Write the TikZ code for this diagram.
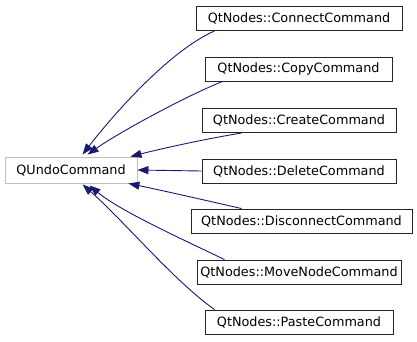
\documentclass[tikz,border=0pt]{standalone}
\usepackage{fontspec}
\setmainfont{DejaVu Sans}
\usetikzlibrary{arrows.meta}
\definecolor{edgeblue}{HTML}{191970}
\definecolor{extgray}{HTML}{BFBFBF}
\tikzset{
  cls/.style={draw=black!85, line width=0.9pt, fill=white, minimum height=24pt,
    inner sep=0pt, font=\fontsize{12.8pt}{14pt}\selectfont},
  extcls/.style={cls, draw=extgray, minimum height=26pt},
  inherit/.style={draw=edgeblue, line width=0.9pt,
    {Triangle[length=11pt,width=8pt]}-},
}
\begin{document}
\begin{tikzpicture}[x=1pt,y=-1pt]
\useasboundingbox (0,0) rectangle (417,341);
\node[extcls, minimum width=132pt] (base) at (71,170) {QUndoCommand};
\node[cls, minimum width=206pt] (connect) at (299,18.5) {QtNodes::ConnectCommand};
\node[cls, minimum width=187pt] (copy) at (298.5,69) {QtNodes::CopyCommand};
\node[cls, minimum width=194pt] (create) at (299,120.5) {QtNodes::CreateCommand};
\node[cls, minimum width=194pt] (delete) at (299,171) {QtNodes::DeleteCommand};
\node[cls, minimum width=221pt] (disconnect) at (301.5,221) {QtNodes::DisconnectCommand};
\node[cls, minimum width=204pt] (movenode) at (299,272) {QtNodes::MoveNodeCommand};
\node[cls, minimum width=188pt] (paste) at (299,322) {QtNodes::PasteCommand};
% inheritance edges, tip at the base class
\draw[inherit] ([xshift=78pt,yshift=2pt]base.north west) .. controls (113,115) and (169,51) .. ([xshift=19pt]connect.south west);
\draw[inherit] ([xshift=83pt,yshift=2pt]base.north west) .. controls (118,133) and (186,96) .. ([xshift=18pt]copy.south west);
\draw[inherit] ([xshift=-7pt]base.north east) .. controls (160,149) and (200,140) .. ([xshift=40pt]create.south west);
\draw[inherit] (base.east) -- (delete.west);
\draw[inherit] ([xshift=-9pt]base.south east) .. controls (160,190) and (200,199) .. ([xshift=51pt]disconnect.north west);
\draw[inherit] ([xshift=85pt,yshift=-2pt]base.south west) .. controls (120,211) and (184,240) .. ([xshift=28pt]movenode.north west);
\draw[inherit] ([xshift=78pt,yshift=-1pt]base.south west) .. controls (124,221) and (174,281) .. ([xshift=10pt]paste.north west);
\end{tikzpicture}
\end{document}
